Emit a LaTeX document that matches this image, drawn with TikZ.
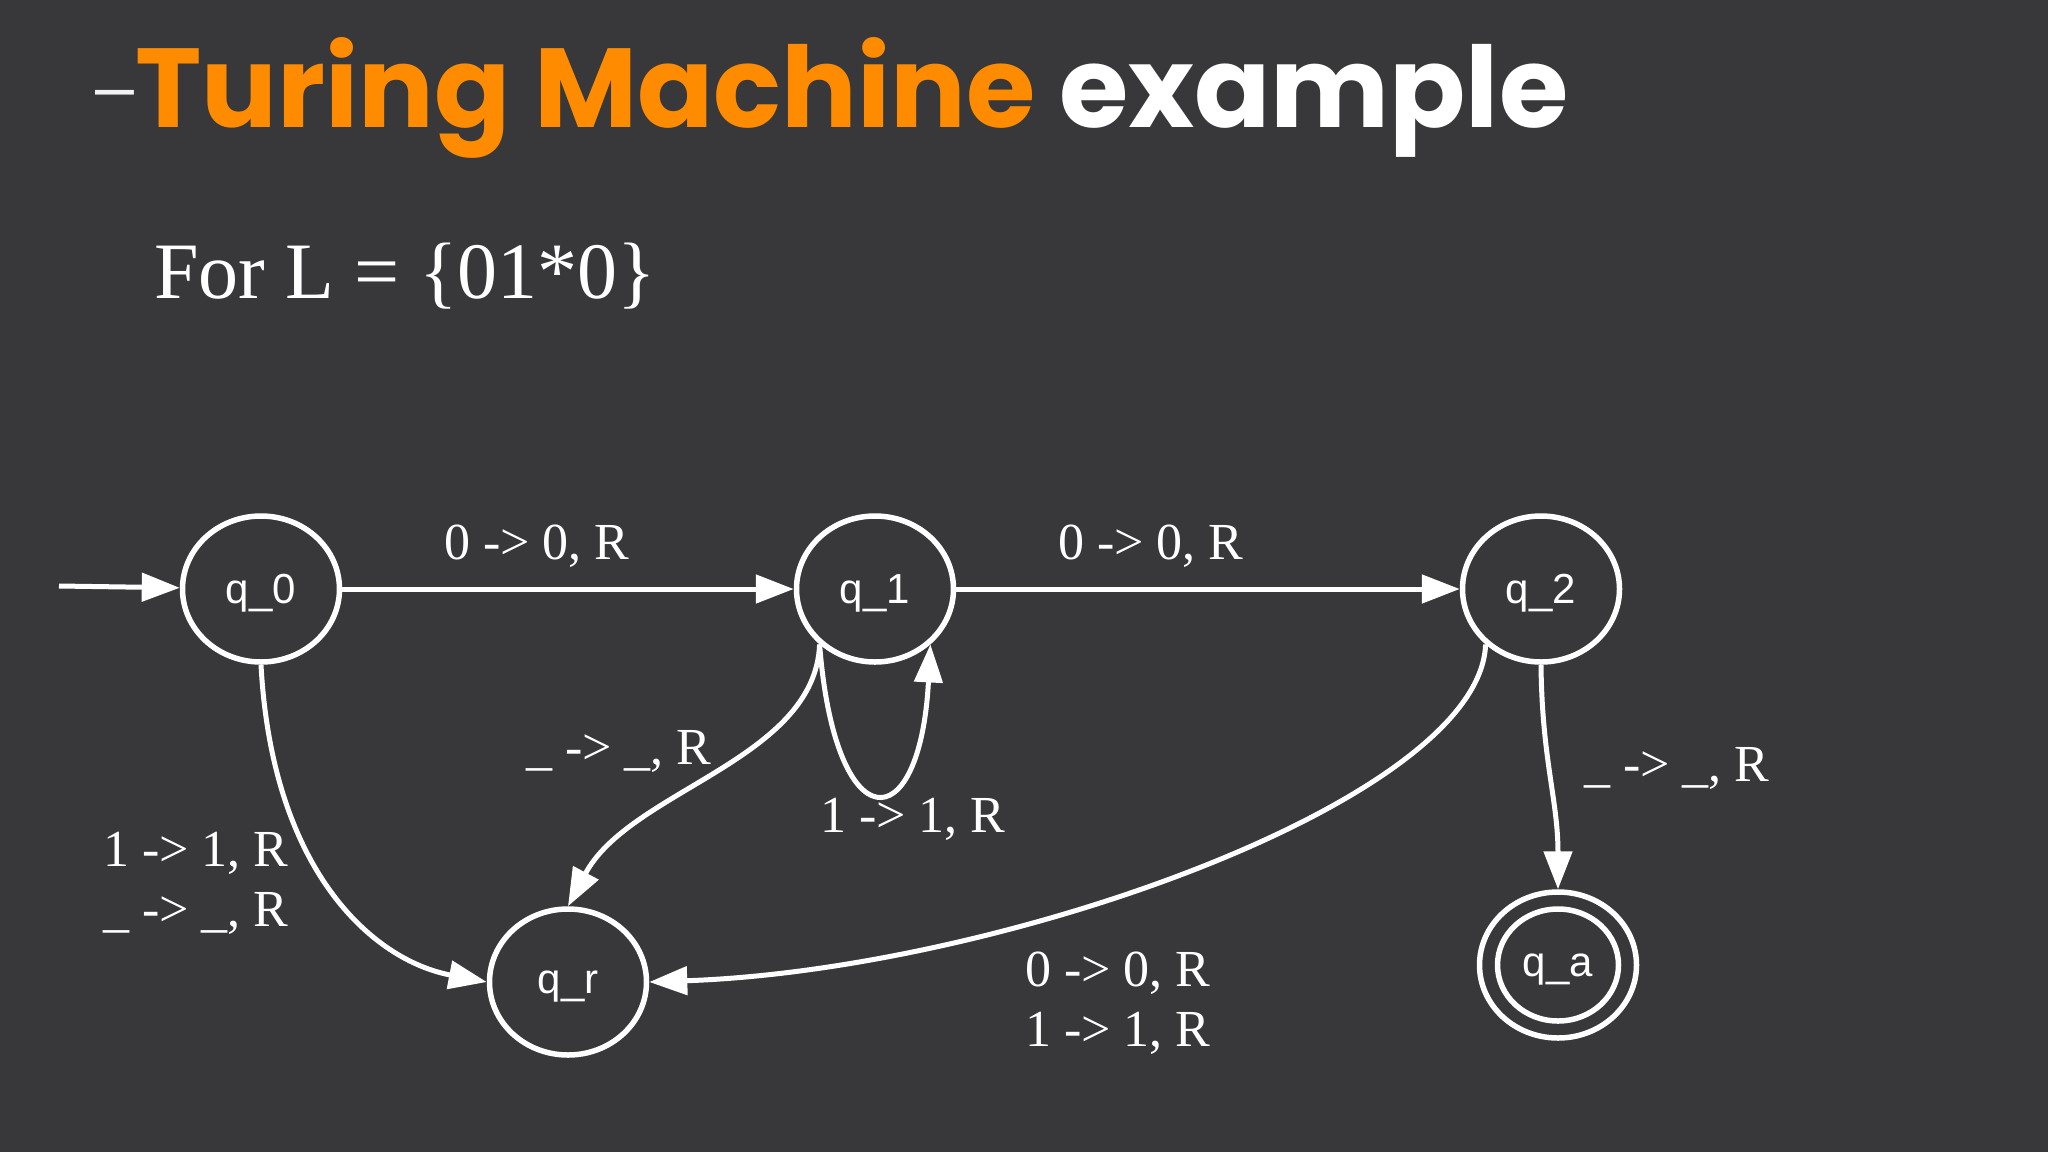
\documentclass[tikz,border=0pt]{standalone}
\usepackage{graphicx}
\usepackage{fontspec}
\setmainfont{Liberation Serif}
\newfontfamily\nodefont{Liberation Sans}
\newfontfamily\titlefont{Poppins}
\usetikzlibrary{arrows.meta,shapes.geometric}
\definecolor{bg}{RGB}{56,55,58}
\definecolor{orng}{RGB}{255,140,0}
\begin{document}
\begin{tikzpicture}[x=1pt,y=-1pt,
  state/.style={ellipse, draw=white, line width=5.5pt, minimum width=157pt, minimum height=146pt, inner sep=0pt, text depth=0pt, font=\nodefont\fontsize{42}{48}\selectfont, text=white},
  edge/.style={draw=white, line width=5pt, -{Triangle[length=38pt,width=28pt]}},
  lbl/.style={text=white, font=\fontsize{52}{60}\selectfont, inner sep=0pt, align=left}]
\fill[bg] (0,0) rectangle (2048,1152);
\useasboundingbox (0,0) rectangle (2048,1152);
% title
\node[anchor=base west, inner sep=0pt, text=white!90!gray, font=\nodefont\fontsize{70}{70}\selectfont] (dash) at (95,110) {–};
\node[anchor=base west, inner sep=0pt] (title) at (135,127) {\resizebox{1433pt}{90pt}{\titlefont\bfseries\fontsize{100}{100}\selectfont\color{orng}Turing Machine \color{white}example}};
\node[anchor=base west, inner sep=0pt, text=white, font=\fontsize{80}{80}\selectfont] (lang) at (154,298) {For L = \{01*0\}};
% states
\node[state] (q0) at (261,589) {q\_0};
\node[state] (q1) at (875,589) {q\_1};
\node[state] (q2) at (1541,589) {q\_2};
\node[state] (qr) at (568,982) {q\_r};
\node[state] (qa) at (1558,965) {};
\node[state, minimum width=121pt, minimum height=112pt] (qain) at (1558,965) {q\_a};
\coordinate (start) at (59,586);
% edges
\draw[edge] (start) -- (q0);
\draw[edge] (q0) -- (q1);
\draw[edge] (q1) -- (q2);
\draw[edge] (q0.south) .. controls (272,870) and (372,960) .. (qr.west);
\draw[edge] (q1.225) .. controls (815,760) and (630,790) .. (qr.north);
\draw[edge] (q1.225) .. controls (835,842) and (920,842) .. (q1.315);
\draw[edge] (q2.225) .. controls (1480,800) and (1000,970) .. (qr.east);
\draw[edge] (q2.south) .. controls (1542,760) and (1558,800) .. (qa.north);
% labels
\node[lbl, anchor=base west] (l01) at (444,559) {0 -> 0, R};
\node[lbl, anchor=base west] (l12) at (1058,559) {0 -> 0, R};
\node[lbl, anchor=base west] (l1r) at (526,764) {\_ -> \_, R};
\node[lbl, anchor=base west] (l11) at (820,832) {1 -> 1, R};
\node[lbl, anchor=base west] (l0r) at (103,926) {1 -> 1, R\\\_ -> \_, R};
\node[lbl, anchor=base west] (l2a) at (1584,781) {\_ -> \_, R};
\node[lbl, anchor=base west] (l2r) at (1025,1046) {0 -> 0, R\\1 -> 1, R};
\end{tikzpicture}
\end{document}
